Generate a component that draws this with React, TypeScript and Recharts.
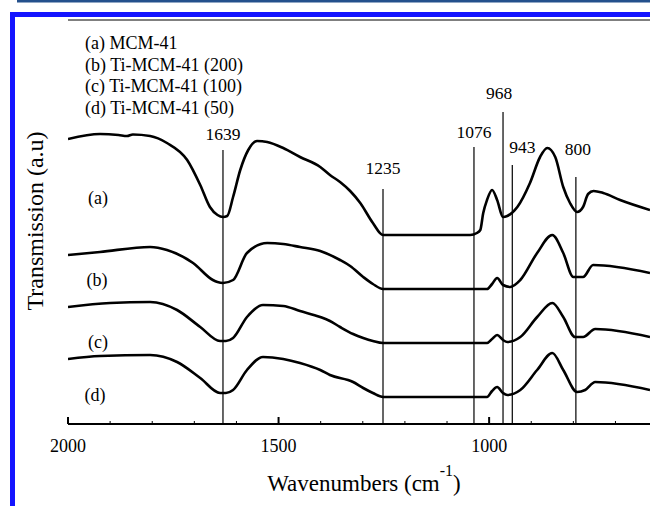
import React from 'react';
import { ComposedChart, Line, XAxis, YAxis, ReferenceLine, Customized } from 'recharts';

// Spectra: [wavenumber (cm-1), transmission (a.u., offset stacked)]
const curveA: [number, number][] = [
  [2000, 285], [1924, 290], [1880, 289], [1860, 288], [1846, 289.5], [1805, 288], [1765, 281],
  [1717, 264], [1686, 239], [1663, 217], [1645, 209], [1632, 207], [1622, 208], [1608, 227],
  [1591, 254], [1572, 274], [1551, 283], [1527, 282], [1489, 276], [1449, 267], [1401, 257],
  [1378, 249], [1354, 242], [1330, 233], [1306, 221], [1276, 201], [1252, 189], [1045, 189],
  [1029, 191], [1021, 194], [1014, 211], [1005, 224], [993, 234], [981, 224], [967, 207],
  [957, 208], [933, 217], [903, 241], [879, 267], [862, 276], [843, 267], [824, 237],
  [808, 221], [791, 212], [777, 217], [765, 230], [752, 233], [729, 231], [689, 224], [618, 214],
];
const curveB: [number, number][] = [
  [2000, 169], [1924, 172], [1805, 177], [1765, 174], [1703, 161], [1656, 144], [1645, 142],
  [1632, 141], [1608, 144], [1575, 171], [1527, 181], [1489, 180], [1449, 177], [1401, 173],
  [1354, 164], [1330, 158], [1299, 147], [1276, 140], [1252, 135], [1005, 135], [993, 140],
  [981, 146], [967, 139], [950, 137], [926, 144], [886, 171], [850, 189], [824, 171],
  [800, 147], [777, 147], [753, 159], [618, 151],
];
const curveC: [number, number][] = [
  [2000, 117], [1900, 121], [1805, 122], [1741, 114], [1686, 97], [1639, 83], [1625, 83],
  [1608, 86], [1575, 107], [1537, 119], [1489, 118], [1449, 113], [1401, 107], [1378, 103],
  [1354, 97], [1323, 90], [1299, 86], [1276, 83], [1252, 81], [1005, 81], [993, 85],
  [981, 89], [967, 84], [957, 82], [926, 87], [886, 107], [850, 121], [824, 107],
  [796, 87], [777, 87], [748, 95], [618, 87],
];
const curveD: [number, number][] = [
  [2000, 65], [1924, 68], [1805, 69], [1741, 62], [1686, 46], [1639, 31], [1625, 31],
  [1608, 34], [1575, 54], [1537, 67], [1489, 65], [1449, 61], [1401, 54], [1378, 49],
  [1323, 42], [1299, 36], [1276, 31], [1252, 27], [1005, 27], [993, 33], [981, 37],
  [967, 31], [957, 29], [926, 34], [886, 54], [850, 71], [824, 54], [791, 32],
  [772, 34], [748, 42], [618, 34],
];

// Marked bands
const peakPositions = [1632, 1252, 1036, 967, 945, 794];
const peakLabels = ['1639', '1235', '1076', '968', '943', '800'];
const peakLineTops = [274, 235, 277, 312, 259, 247];

const xTicks = [2000, 1900, 1800, 1700, 1600, 1500, 1400, 1300, 1200, 1100, 1000, 900, 800, 700];
const legendLines = ['(a) MCM-41', '(b) Ti-MCM-41 (200)', '(c) Ti-MCM-41 (100)', '(d) Ti-MCM-41 (50)'];
const curveTags = ['(a)', '(b)', '(c)', '(d)'];

// style-only arrays
const peakLabelDx = [0, 0, 0, -4, 10, 2];
const peakLabelGap = [10, 15, 9, 13, 12, 22];
const curveTagPos = [[98, 204], [97, 286], [98, 348], [95, 401]];

const SERIF = "'Liberation Serif', 'Times New Roman', Times, serif";
const txt = { fontFamily: SERIF } as React.CSSProperties;

const toData = (c: [number, number][]) => c.map(([x, y]) => ({ x, y }));
const series = [curveA, curveB, curveC, curveD].map(toData);

const XTick = (props: any) => {
  const { x, y, payload } = props;
  const major = payload.value % 500 === 0;
  return (
    <g>
      <line x1={x} x2={x} y1={y} y2={y - (major ? 7 : 3)} stroke="#000" strokeWidth={major ? 2 : 1} />
      {major && (
        <text x={x} y={y + 28} textAnchor="middle" fontSize={18} style={txt} fill="#000">
          {payload.value}
        </text>
      )}
    </g>
  );
};

const makePeakLabel = (i: number) => (p: any) => {
  const vb = p.viewBox || {};
  return (
    <text
      x={vb.x + peakLabelDx[i]}
      y={vb.y - peakLabelGap[i]}
      textAnchor="middle"
      fontSize={17.5}
      style={txt}
      fill="#000"
    >
      {peakLabels[i]}
    </text>
  );
};

const Decorations = () => (
  <g>
    <rect x={17} y={0} width={633} height={2.5} fill="#24508c" />
    <rect x={10} y={12} width={640} height={5} fill="#1414ff" />
    <rect x={10} y={12} width={5} height={494} fill="#1414ff" />
    {legendLines.map((t, i) => (
      <text key={t} x={85} y={49 + i * 21.5} fontSize={18} style={txt} fill="#000">
        {t}
      </text>
    ))}
    {curveTags.map((t, i) => (
      <text key={t} x={curveTagPos[i][0]} y={curveTagPos[i][1]} textAnchor="middle" fontSize={18} style={txt} fill="#000">
        {t}
      </text>
    ))}
    <text x={364} y={491} textAnchor="middle" fontSize={23} style={txt} fill="#000">
      Wavenumbers (cm
      <tspan dy={-15} fontSize={16}>-1</tspan>
      <tspan dy={15}>)</tspan>
    </text>
    <text
      x={0}
      y={0}
      transform="translate(43 221) rotate(-90)"
      textAnchor="middle"
      fontSize={24}
      style={txt}
      fill="#000"
    >
      Transmission (a.u)
    </text>
  </g>
);

export default function App() {
  return (
    <div style={{ position: 'absolute', left: 0, top: 0, width: 650, height: 506, background: '#fff' }}>
      <ComposedChart width={650} height={506} margin={{ top: 20, right: 0, bottom: 52, left: 68 }}>
        <XAxis
          type="number"
          dataKey="x"
          domain={[618, 2000]}
          reversed
          allowDataOverflow
          ticks={xTicks}
          interval={0}
          tickSize={0}
          tickMargin={0}
          tickLine={false}
          tick={<XTick />}
          height={30}
          axisLine={{ stroke: '#000', strokeWidth: 2 }}
        />
        <YAxis
          type="number"
          dataKey="y"
          domain={[0, 404]}
          allowDataOverflow
          width={0}
          tick={false}
          tickLine={false}
          axisLine={{ stroke: '#000', strokeWidth: 1 }}
        />
        <ReferenceLine y={404} stroke="#000" strokeWidth={1} />
        {peakPositions.map((p, i) => (
          <ReferenceLine
            key={p}
            segment={[{ x: p, y: 0 }, { x: p, y: peakLineTops[i] }]}
            stroke="#000"
            strokeWidth={1.2}
            label={makePeakLabel(i)}
          />
        ))}
        {series.map((d, i) => (
          <Line
            key={i}
            data={d}
            dataKey="y"
            type="monotone"
            stroke="#000"
            strokeWidth={2.6}
            dot={false}
            activeDot={false}
            isAnimationActive={false}
          />
        ))}
        <Customized component={Decorations} />
      </ComposedChart>
    </div>
  );
}
